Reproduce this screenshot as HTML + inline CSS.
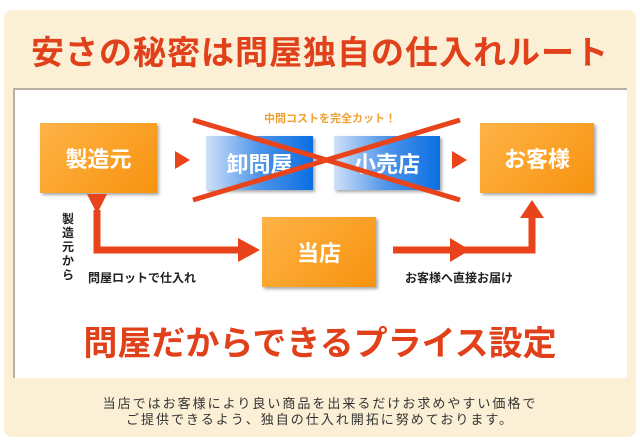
<!DOCTYPE html>
<html><head><meta charset="utf-8"><style>
body{margin:0;width:640px;height:442px;background:#fff;position:relative;overflow:hidden;font-family:"Liberation Sans","Noto Sans CJK JP",sans-serif}
.a{position:absolute}
.box{position:absolute;display:flex;align-items:center;justify-content:center;color:#fff;font-size:22px;font-weight:bold;box-shadow:2px 2px 3px rgba(0,0,0,.35)}
.or{background:linear-gradient(135deg,#ffb347,#f7930f)}
.bl{background:linear-gradient(90deg,#cfe0f6,#4c94ea 50%,#0b6fe2)}
</style></head><body>
<div class="a" style="left:4px;top:10px;width:632px;height:427px;background:#fbefd6;border-radius:8px"></div>
<div class="a" style="left:0;top:26px;width:640px;text-align:center;font-size:33px;font-weight:bold;color:#e0401a;letter-spacing:1px">安さの秘密は問屋独自の仕入れルート</div>
<div class="a" style="left:13px;top:88px;width:612px;height:288px;background:#fff;border-top:2px solid #b8b0a0;border-left:2px solid #b8b0a0"></div>
<div class="a" style="left:0;top:110px;width:660px;text-align:center;font-size:11px;font-weight:bold;color:#f0a030">中間コストを完全カット！</div>
<div class="box or" style="left:40px;top:123px;width:117px;height:70px">製造元</div>
<div class="box bl" style="left:206px;top:136px;width:107px;height:54px">卸問屋</div>
<div class="box bl" style="left:334px;top:136px;width:106px;height:54px">小売店</div>
<div class="box or" style="left:480px;top:123px;width:114px;height:70px">お客様</div>
<div class="box or" style="left:262px;top:217px;width:114px;height:70px">当店</div>
<svg class="a" style="left:0;top:0" width="640" height="442">
<polygon points="175,151 190,160 175,169" fill="#e8431a"/>
<polygon points="452,151 467,160 452,169" fill="#e8431a"/>
<line x1="193" y1="120" x2="460" y2="200" stroke="#e8431a" stroke-width="5"/>
<line x1="193" y1="200" x2="460" y2="120" stroke="#e8431a" stroke-width="5"/>
<polyline points="97,210 97,250 240,250" fill="none" stroke="#e8431a" stroke-width="7"/>
<polygon points="87,194 107,194 97,214" fill="#e8431a"/>
<polygon points="238,238 260,250 238,262" fill="#e8431a"/>
<polyline points="393,250 532,250 532,215" fill="none" stroke="#e8431a" stroke-width="7"/>
<polygon points="450,238 470,250 450,262" fill="#e8431a"/>
<polygon points="520,218 544,218 532,200" fill="#e8431a"/>
</svg>
<div class="a" style="left:62px;top:212px;width:14px;font-size:12px;font-weight:bold;line-height:14px;color:#222">製<br>造<br>元<br>か<br>ら</div>
<div class="a" style="left:88px;top:269px;font-size:12px;font-weight:bold;color:#222">問屋ロットで仕入れ</div>
<div class="a" style="left:405px;top:269px;font-size:12px;font-weight:bold;color:#222">お客様へ直接お届け</div>
<div class="a" style="left:0;top:316px;width:640px;text-align:center;font-size:34px;font-weight:bold;color:#e0401a">問屋だからできるプライス設定</div>
<div class="a" style="left:0;top:396px;width:640px;text-align:center;font-size:13px;line-height:16px;letter-spacing:2px;color:#333">当店ではお客様により良い商品を出来るだけお求めやすい価格で<br>ご提供できるよう、独自の仕入れ開拓に努めております。</div>
</body></html>
